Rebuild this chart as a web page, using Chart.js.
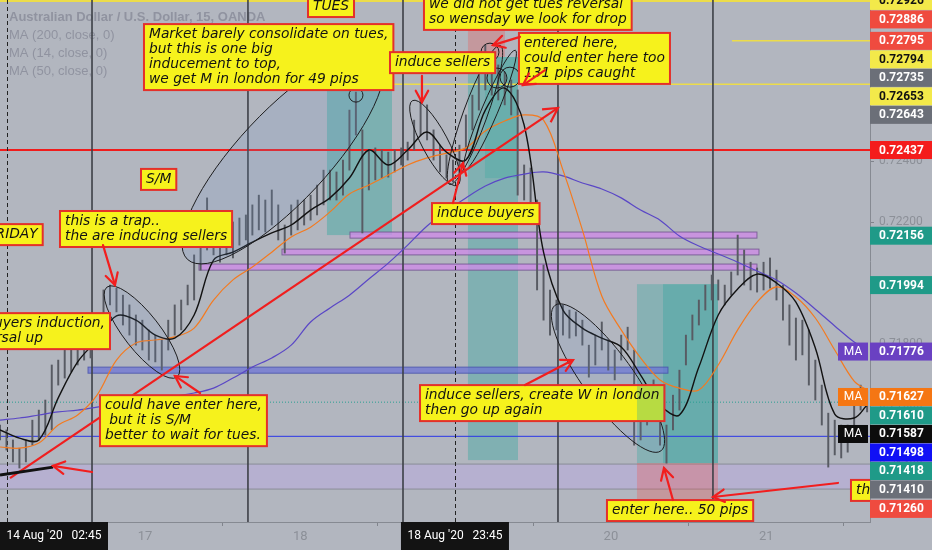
<!DOCTYPE html>
<html><head><meta charset="utf-8">
<script src="https://cdn.jsdelivr.net/npm/chart.js@4.4.0/dist/chart.umd.min.js"></script>
<style>
html,body{margin:0;padding:0;background:#b2b6bf;overflow:hidden;}
#wrap{width:932px;height:550px;position:relative;}
</style></head><body>
<div id="wrap"><canvas id="c"></canvas></div>
<script>
// ---------- DATA ----------
// hourly candle ranges (chart-hours from left edge)
const candleHigh = [0.71535,0.71519,0.71486,0.71459,0.71486,0.71551,0.71584,0.71617,0.71732,0.71748,
0.71781,0.71781,0.71797,0.71807,0.71820,0.71879,0.71978,0.71994,0.71984,0.71961,
0.71929,0.71896,0.71879,0.71847,0.71830,0.71814,0.71879,0.71929,0.71945,0.71994,
0.72093,0.72175,0.72280,0.72224,0.72207,0.72207,0.72201,0.72214,0.72224,0.72257,
0.72289,0.72273,0.72306,0.72257,0.72191,0.72257,0.72273,0.72273,0.72289,0.72322,
0.72371,0.72371,0.72365,0.72404,0.72568,0.72627,0.72503,0.72437,0.72444,0.72437,
0.72430,0.72437,0.72444,0.72463,0.72535,0.72601,0.72585,0.72503,0.72453,0.72421,
0.72404,0.72453,0.72552,0.72617,0.72683,0.72781,0.72749,0.72716,0.72693,0.72667,
0.72634,0.72388,0.72378,0.72273,0.72060,0.71978,0.71945,0.71929,0.71912,0.71906,
0.71879,0.71797,0.71830,0.71873,0.71814,0.71781,0.71830,0.71856,0.71781,0.71601,
0.71666,0.71683,0.71584,0.71535,0.71633,0.71715,0.71830,0.71896,0.71945,0.71994,
0.72027,0.72011,0.71994,0.72037,0.72158,0.72109,0.72069,0.72050,0.72069,0.72083,
0.72043,0.71994,0.71929,0.71886,0.71879,0.71847,0.71748,0.71666,0.71574,0.71551,
0.71535,0.71535,0.71650,0.71666,0.71650];
const candleLow = [0.71486,0.71453,0.71414,0.71394,0.71414,0.71469,0.71486,0.71502,0.71519,0.71666,
0.71689,0.71709,0.71732,0.71748,0.71755,0.71797,0.71879,0.71929,0.71906,0.71863,
0.71830,0.71797,0.71781,0.71748,0.71742,0.71715,0.71781,0.71830,0.71847,0.71929,
0.71945,0.72043,0.72109,0.72093,0.72069,0.72093,0.72083,0.72125,0.72142,0.72158,
0.72175,0.72168,0.72191,0.72142,0.72099,0.72158,0.72175,0.72191,0.72207,0.72224,
0.72257,0.72273,0.72273,0.72289,0.72371,0.72486,0.72165,0.72306,0.72339,0.72345,
0.72348,0.72365,0.72388,0.72404,0.72437,0.72486,0.72470,0.72404,0.72365,0.72345,
0.72332,0.72355,0.72437,0.72503,0.72568,0.72634,0.72617,0.72601,0.72585,0.72552,
0.72289,0.72273,0.72257,0.71978,0.71879,0.71830,0.71847,0.71830,0.71820,0.71827,
0.71797,0.71692,0.71732,0.71781,0.71715,0.71683,0.71748,0.71781,0.71469,0.71486,
0.71535,0.71568,0.71469,0.71410,0.71519,0.71584,0.71732,0.71814,0.71863,0.71912,
0.71945,0.71945,0.71929,0.71961,0.72027,0.71994,0.71978,0.71971,0.71978,0.71984,
0.71945,0.71879,0.71797,0.71748,0.71765,0.71666,0.71617,0.71535,0.71397,0.71437,
0.71427,0.71446,0.71525,0.71584,0.71578];
const maHours = [0,3,6,9,12,15,18,21,24,27,30,33,36,39,42,45,48,51,54,57,60,63,66,69,72,75,78,81,84,87,90,93,96,99,102,105,108,111,114,117,120,123,126,129,132,134];
const ma14 = [0.71519,0.71492,0.71486,0.71624,0.71742,0.71814,0.71893,0.71879,0.71830,0.71820,
0.71896,0.72076,0.72102,0.72135,0.72165,0.72191,0.72240,0.72280,0.72345,0.72437,
0.72388,0.72437,0.72496,0.72430,0.72404,0.72568,0.72640,0.72519,0.72102,0.71912,
0.71853,0.71820,0.71791,0.71699,0.71601,0.71568,0.71725,0.71896,0.71981,0.72030,
0.72001,0.71938,0.71788,0.71571,0.71558,0.71601];
const ma50 = [0.71463,0.71459,0.71476,0.71535,0.71568,0.71633,0.71748,0.71804,0.71814,0.71824,
0.71853,0.71945,0.72011,0.72053,0.72102,0.72152,0.72184,0.72234,0.72293,0.72322,
0.72355,0.72388,0.72411,0.72427,0.72444,0.72499,0.72532,0.72552,0.72535,0.72371,
0.72175,0.71958,0.71847,0.71755,0.71683,0.71656,0.71650,0.71732,0.71847,0.71938,
0.71988,0.71955,0.71886,0.71781,0.71679,0.71650];
const ma200 = [0.71551,0.71558,0.71568,0.71578,0.71584,0.71594,0.71604,0.71614,0.71624,0.71630,
0.71640,0.71656,0.71689,0.71725,0.71755,0.71797,0.71873,0.71919,0.71961,0.72014,
0.72066,0.72125,0.72188,0.72237,0.72280,0.72319,0.72345,0.72358,0.72365,0.72352,
0.72329,0.72309,0.72280,0.72240,0.72207,0.72155,0.72122,0.72096,0.72069,0.72040,
0.72011,0.71968,0.71915,0.71860,0.71807,0.71781];
const dayTickHours = [22.41,46.41,70.41,94.41,118.41];
const dayTickLabels = ['17','18','19','20','21'];
const yTickValues = [0.714,0.716,0.718,0.720,0.722,0.724,0.726,0.728];
const priceLabelValues = [0.72926,0.72886,0.72795,0.72794,0.72735,0.72653,0.72643,0.72437,0.72156,0.71994,0.71776,0.71627,0.71610,0.71587,0.71498,0.71418,0.71410,0.71260];
const priceLabelBg = ['#f3e94a','#ef4b3f','#ef4b3f','#f3e94a','#6b6f78','#f3e94a','#6b6f78','#f41c1c','#1f9a88','#1f9a88','#6a41c2','#f57613','#1f9a88','#0c0c0c','#1010f5','#1f9a88','#6b6f78','#ef4b3f'];
const priceLabelFg = ['#111','#fff','#fff','#111','#fff','#111','#fff','#fff','#fff','#fff','#fff','#fff','#fff','#fff','#fff','#fff','#fff','#fff'];
const priceLabelMA = [false,false,false,false,false,false,false,false,false,false,true,true,false,true,false,false,false,false];

// ---------- DRAWINGS (positions in chart-hours / price) ----------
const zones = [
 {h1:50.53,h2:60.58,p1:0.72798,p2:0.72650,fill:'rgba(239,83,80,0.25)'},
 {h1:50.53,h2:60.58,p1:0.72650,p2:0.72158,fill:'rgba(38,166,154,0.38)'},
 {h1:72.32,h2:78.04,p1:0.72831,p2:0.72742,fill:'rgba(239,83,80,0.3)'},
 {h1:72.32,h2:80.05,p1:0.72742,p2:0.71420,fill:'rgba(38,166,154,0.36)'},
 {h1:74.95,h2:80.05,p1:0.72742,p2:0.72345,fill:'rgba(38,166,154,0.25)'},
 {h1:98.44,h2:110.96,p1:0.71997,p2:0.71410,fill:'rgba(38,166,154,0.3)'},
 {h1:102.46,h2:110.96,p1:0.71997,p2:0.71410,fill:'rgba(38,166,154,0.32)'},
 {h1:98.44,h2:110.96,p1:0.71410,p2:0.71289,fill:'rgba(239,83,80,0.3)'}
];
const bands = [
 {h1:54.09,h2:116.98,p1:0.72168,p2:0.72148,fill:'rgba(205,140,230,0.8)',stroke:'rgba(110,80,140,0.8)'},
 {h1:43.58,h2:117.29,p1:0.72112,p2:0.72093,fill:'rgba(205,140,230,0.8)',stroke:'rgba(110,80,140,0.8)'},
 {h1:30.75,h2:116.98,p1:0.72063,p2:0.72043,fill:'rgba(205,140,230,0.8)',stroke:'rgba(110,80,140,0.8)'},
 {h1:13.6,h2:103.23,p1:0.71725,p2:0.71705,fill:'rgba(105,112,215,0.7)',stroke:'rgba(70,80,170,0.8)'}
];
const hLines = [
 {p:0.72926,h1:0,h2:134.45,color:'#ecdc4a',w:2},
 {p:0.72795,h1:113.12,h2:134.45,color:'#ecdc4a',w:1.5},
 {p:0.72653,h1:60.27,h2:134.45,color:'#ecdc4a',w:1.5},
 {p:0.72437,h1:0,h2:134.45,color:'#f01c1c',w:2},
 {p:0.71610,h1:0,h2:134.45,color:'#2a9f92',w:1,dash:[1,2]},
 {p:0.71498,h1:0,h2:134.45,color:'#2a35e8',w:1}
];
const sessionLines = [14.22,38.32,62.28,86.23,110.18];
const crossLines = [1.08,70.31];
const lavender = {p1:0.71407,p2:0.71325};
const segments = [
 {h1:1.55,p1:0.71361,h2:86.23,p2:0.72575,color:'#f01e1e',w:2.2,head:true},
 {h1:0,p1:0.71371,h2:8.19,p2:0.71397,color:'#111',w:3,head:false}
];
const arrows = [
 {h1:15.92,p1:0.72125,h2:17.77,p2:0.71994},
 {h1:30.91,p1:0.71640,h2:27.04,p2:0.71696},
 {h1:14.22,p1:0.71381,h2:8.19,p2:0.71401},
 {h1:65.21,p1:0.72680,h2:65.21,p2:0.72594},
 {h1:80.36,p1:0.72808,h2:76.19,p2:0.72781},
 {h1:84.22,p1:0.72699,h2:80.82,p2:0.72650},
 {h1:70.0,p1:0.72263,h2:71.55,p2:0.72394},
 {h1:81.13,p1:0.71666,h2:88.55,p2:0.71748},
 {h1:104.0,p1:0.71289,h2:102.61,p2:0.71394},
 {h1:129.5,p1:0.71345,h2:110.18,p2:0.71299}
];
const ellipses = [
 {h:43.73,p:0.72414,a:140,b:45,rot:-47,fill:'rgba(110,150,205,0.16)'},
 {h:21.94,p:0.71840,a:57,b:18,rot:52,fill:'rgba(110,150,205,0.12)'},
 {h:67.22,p:0.72460,a:48,b:13,rot:62},
 {h:73.4,p:0.72552,a:74,b:12,rot:-70},
 {h:75.72,p:0.72568,a:65,b:8,rot:-67},
 {h:75.72,p:0.72758,a:9,b:9,rot:0},
 {h:76.8,p:0.72673,a:10,b:10,rot:0},
 {h:78.81,p:0.72676,a:10,b:10,rot:0},
 {h:55.01,p:0.72617,a:7,b:7,rot:0},
 {h:93.96,p:0.71689,a:90,b:25,rot:54,fill:'rgba(110,150,205,0.12)'}
];
const notes = [
 {h:47.6,p:0.72942,lines:['TUES']},
 {h:22.25,p:0.72850,lines:['Market barely consolidate on tues,','but this is one big','inducement to top,','we get M in london for 49 pips']},
 {h:65.52,p:0.72949,lines:['we did not get tues reversal','so wensday we look for drop']},
 {h:60.27,p:0.72758,lines:['induce sellers']},
 {h:80.2,p:0.72821,lines:['entered here,','could enter here too','131 pips caught']},
 {h:21.79,p:0.72375,lines:['S/M']},
 {h:9.27,p:0.72237,lines:['this is a trap..','the are inducing sellers']},
 {h:6.6,p:0.72194,lines:['FRIDAY'],right:true},
 {h:17.0,p:0.71902,lines:['so buyers induction,','reversal up'],right:true},
 {h:15.45,p:0.71633,lines:['could have enter here,',' but it is S/M','better to wait for tues.']},
 {h:66.76,p:0.72263,lines:['induce buyers']},
 {h:64.91,p:0.71666,lines:['induce sellers, create W in london','then go up again'],under:[5,6]},
 {h:93.8,p:0.71289,lines:['enter here.. 50 pips']},
 {h:131.51,p:0.71355,lines:['this is...']}
];
const legendLines = ['Australian Dollar / U.S. Dollar, 15, OANDA','MA (200, close, 0)','MA (14, close, 0)','MA (50, close, 0)'];
const dateLabels = [{h:1.08,text:"14 Aug '20   02:45",clampLeft:true},{h:70.31,text:"18 Aug '20   23:45"}];

// ---------- DRAW HELPERS ----------
function arrowHead(ctx,x1,y1,x2,y2,len){
  const ang=Math.atan2(y2-y1,x2-x1);
  ctx.beginPath();
  ctx.moveTo(x2-len*Math.cos(ang-0.5),y2-len*Math.sin(ang-0.5));
  ctx.lineTo(x2,y2);
  ctx.lineTo(x2-len*Math.cos(ang+0.5),y2-len*Math.sin(ang+0.5));
  ctx.stroke();
}
const NOTE_FONT='italic 13.8px "DejaVu Sans"';

const tvPlugin = {
  id:'tv',
  beforeDatasetsDraw(chart){
    const {ctx,chartArea:a,scales:{x,y}}=chart;
    ctx.save();
    ctx.beginPath();ctx.rect(a.left,a.top,a.right-a.left,a.bottom-a.top);ctx.clip();
    ctx.fillStyle='#9093a0';ctx.textBaseline='middle';ctx.textAlign='left';
    legendLines.forEach((t,i)=>{ctx.font=(i===0?'bold ':'')+'13px "Liberation Sans"';ctx.fillText(t,9,17+i*18);});
    const ly1=y.getPixelForValue(lavender.p1),ly2=y.getPixelForValue(lavender.p2);
    ctx.fillStyle='rgba(190,165,240,0.35)';ctx.fillRect(a.left,ly1,a.right-a.left,ly2-ly1);
    ctx.strokeStyle='#8a8d97';ctx.lineWidth=1;
    [ly1,ly2].forEach(v=>{ctx.beginPath();ctx.moveTo(a.left,v);ctx.lineTo(a.right,v);ctx.stroke();});
    zones.forEach(z=>{const x1=x.getPixelForValue(z.h1),x2=x.getPixelForValue(z.h2),y1=y.getPixelForValue(z.p1),y2=y.getPixelForValue(z.p2);ctx.fillStyle=z.fill;ctx.fillRect(x1,y1,x2-x1,y2-y1);});
    bands.forEach(b=>{const x1=x.getPixelForValue(b.h1),x2=x.getPixelForValue(b.h2),y1=y.getPixelForValue(b.p1),y2=y.getPixelForValue(b.p2);ctx.fillStyle=b.fill;ctx.fillRect(x1,y1,x2-x1,y2-y1);ctx.strokeStyle=b.stroke;ctx.lineWidth=1;ctx.strokeRect(x1,y1,x2-x1,y2-y1);});
    hLines.forEach(l=>{const yy=y.getPixelForValue(l.p);ctx.strokeStyle=l.color;ctx.lineWidth=l.w;ctx.setLineDash(l.dash||[]);ctx.beginPath();ctx.moveTo(x.getPixelForValue(l.h1),yy);ctx.lineTo(x.getPixelForValue(l.h2),yy);ctx.stroke();});
    ctx.setLineDash([]);
    ctx.strokeStyle='#3d4047';ctx.lineWidth=1.6;
    sessionLines.forEach(h=>{const xx=x.getPixelForValue(h);ctx.beginPath();ctx.moveTo(xx,a.top);ctx.lineTo(xx,a.bottom);ctx.stroke();});
    ctx.strokeStyle='#222';ctx.lineWidth=1;ctx.setLineDash([4,3]);
    crossLines.forEach(h=>{const xx=Math.round(x.getPixelForValue(h))+0.5;ctx.beginPath();ctx.moveTo(xx,a.top);ctx.lineTo(xx,a.bottom);ctx.stroke();});
    ctx.setLineDash([]);
    ctx.restore();
  },
  afterDatasetsDraw(chart){
    const {ctx,chartArea:a,scales:{x,y}}=chart;
    ctx.save();
    ctx.beginPath();ctx.rect(a.left,a.top,a.right-a.left,a.bottom-a.top);ctx.clip();
    ellipses.forEach(e=>{ctx.beginPath();ctx.ellipse(x.getPixelForValue(e.h),y.getPixelForValue(e.p),e.a,e.b,e.rot*Math.PI/180,0,Math.PI*2);if(e.fill){ctx.fillStyle=e.fill;ctx.fill();}ctx.strokeStyle='#1c1c1e';ctx.lineWidth=1;ctx.stroke();});
    segments.forEach(s=>{const x1=x.getPixelForValue(s.h1),y1=y.getPixelForValue(s.p1),x2=x.getPixelForValue(s.h2),y2=y.getPixelForValue(s.p2);ctx.strokeStyle=s.color;ctx.lineWidth=s.w;ctx.beginPath();ctx.moveTo(x1,y1);ctx.lineTo(x2,y2);ctx.stroke();if(s.head)arrowHead(ctx,x1,y1,x2,y2,16);});
    ctx.textBaseline='middle';ctx.textAlign='left';
    notes.forEach(n=>{
      ctx.font=NOTE_FONT;
      const w=Math.max(...n.lines.map(t=>ctx.measureText(t).width))+10;
      const h=n.lines.length*15+6;
      let x0=x.getPixelForValue(n.h);if(n.right)x0-=w;
      const y0=y.getPixelForValue(n.p);
      ctx.fillStyle='#f6f21c';ctx.fillRect(x0,y0,w,h);
      if(n.under){ctx.save();ctx.beginPath();ctx.rect(x0,y0,w,h);ctx.clip();n.under.forEach(k=>{const z=zones[k];const x1=x.getPixelForValue(z.h1),x2=x.getPixelForValue(z.h2),y1=y.getPixelForValue(z.p1),y2=y.getPixelForValue(z.p2);ctx.fillStyle=z.fill;ctx.fillRect(x1,y1,x2-x1,y2-y1);});ctx.restore();}
      ctx.strokeStyle='#e4302a';ctx.lineWidth=2;ctx.strokeRect(x0,y0,w,h);
      ctx.fillStyle='#121212';ctx.font=NOTE_FONT;
      n.lines.forEach((t,i)=>ctx.fillText(t,x0+5,y0+3+7.5+15*i));
    });
    ctx.strokeStyle='#f21e1e';ctx.lineWidth=2.2;ctx.lineCap='round';
    arrows.forEach(r=>{const x1=x.getPixelForValue(r.h1),y1=y.getPixelForValue(r.p1),x2=x.getPixelForValue(r.h2),y2=y.getPixelForValue(r.p2);ctx.beginPath();ctx.moveTo(x1,y1);ctx.lineTo(x2,y2);ctx.stroke();arrowHead(ctx,x1,y1,x2,y2,13);});
    ctx.restore();
  },
  afterDraw(chart){
    const {ctx,chartArea:a,scales:{x,y}}=chart;
    ctx.save();
    const labs=priceLabelValues.map((v,i)=>({v,y:y.getPixelForValue(v),bg:priceLabelBg[i],fg:priceLabelFg[i],ma:priceLabelMA[i]}));
    labs.sort((p,q)=>p.y-q.y);
    for(let i=1;i<labs.length;i++){if(labs[i].y<labs[i-1].y+18.5)labs[i].y=labs[i-1].y+18.5;}
    ctx.font='bold 12px Roboto';ctx.textBaseline='middle';ctx.textAlign='left';
    labs.forEach(l=>{
      ctx.fillStyle=l.bg;ctx.fillRect(a.right,l.y-9,chart.width-a.right,18);
      ctx.fillStyle=l.fg;ctx.fillText(l.v.toFixed(5),a.right+9,l.y+0.5);
      if(l.ma){ctx.fillStyle=l.bg;ctx.fillRect(a.right-32,l.y-9,30,18);ctx.fillStyle='#fff';ctx.textAlign='center';ctx.font='12px Roboto';ctx.fillText('MA',a.right-17,l.y+0.5);ctx.textAlign='left';ctx.font='bold 12px Roboto';}
    });
    ctx.font='12px Roboto';ctx.textAlign='center';
    dateLabels.forEach(d=>{const cx=x.getPixelForValue(d.h);const w=108;let x0=cx-w/2;if(d.clampLeft&&x0<0)x0=0;ctx.fillStyle='#131313';ctx.fillRect(x0,a.bottom,w,chart.height-a.bottom);ctx.fillStyle='#fff';ctx.fillText(d.text,x0+w/2,a.bottom+14);});
    ctx.restore();
  }
};

new Chart(document.getElementById('c'),{
  type:'bar',
  data:{datasets:[
    {type:'line',label:'MA (200, close, 0)',data:maHours.map((h,i)=>({x:h,y:ma200[i]})),borderColor:'#5a47c6',borderWidth:1.2,pointRadius:0,tension:0.35,order:3},
    {type:'line',label:'MA (50, close, 0)',data:maHours.map((h,i)=>({x:h,y:ma50[i]})),borderColor:'#f47a1f',borderWidth:1.2,pointRadius:0,tension:0.35,order:2},
    {type:'bar',label:'AUDUSD',data:candleHigh.map((v,i)=>({x:i,y:[candleLow[i],v]})),backgroundColor:'#585b63',barThickness:1.3,grouped:false,order:4},
    {type:'line',label:'MA (14, close, 0)',data:maHours.map((h,i)=>({x:h,y:ma14[i]})),borderColor:'#121212',borderWidth:1.4,pointRadius:0,tension:0.35,order:1}
  ]},
  options:{
    responsive:true,maintainAspectRatio:false,animation:false,
    layout:{padding:0},
    plugins:{legend:{display:false},tooltip:{enabled:false}},
    scales:{
      x:{type:'linear',min:0,max:134.45,offset:false,
        afterBuildTicks:s=>{s.ticks=dayTickHours.map(v=>({value:v}));},
        ticks:{callback:(v,i)=>dayTickLabels[i],color:'#8c9098',font:{size:13,family:'Roboto'},padding:3,maxRotation:0,autoSkip:false},
        grid:{drawOnChartArea:false,tickLength:4,color:'#80848c'},
        border:{color:'#868a92'},
        afterFit:s=>{s.height=28;s.paddingLeft=0;s.paddingRight=0;}
      },
      y:{type:'linear',position:'right',min:0.71217,max:0.72929,
        afterBuildTicks:s=>{s.ticks=yTickValues.map(v=>({value:v}));},
        ticks:{callback:v=>Number(v).toFixed(5),color:'#8c9098',font:{size:12,family:'Roboto'},padding:5},
        grid:{drawOnChartArea:false,tickLength:4,color:'#80848c'},
        border:{color:'#868a92'},
        afterFit:s=>{s.width=62;s.paddingTop=0;s.paddingBottom=0;}
      }
    }
  },
  plugins:[tvPlugin]
});
</script>
</body></html>
